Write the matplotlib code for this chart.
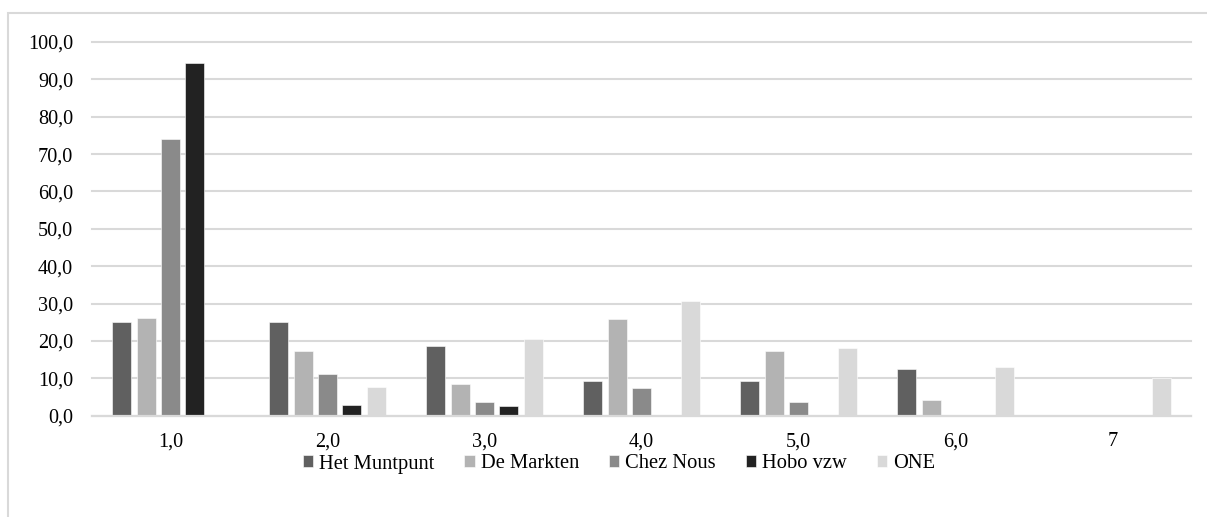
import matplotlib
matplotlib.use("Agg")
import matplotlib.pyplot as plt
import matplotlib.patches as mpatches
import numpy as np

categories = ["1,0", "2,0", "3,0", "4,0", "5,0", "6,0", "7"]
series_names = ["Het Muntpunt", "De Markten", "Chez Nous", "Hobo vzw", "ONE"]
het_muntpunt = [25.0, 25.0, 18.6, 9.3, 9.3, 12.4, 0.0]
de_markten = [26.1, 17.4, 8.6, 26.0, 17.3, 4.3, 0.0]
chez_nous = [74.0, 11.1, 3.6, 7.4, 3.6, 0.0, 0.0]
hobo_vzw = [94.4, 2.8, 2.7, 0.0, 0.0, 0.0, 0.0]
one = [0.0, 7.7, 20.5, 30.6, 18.0, 12.9, 10.0]
yticks = [0, 10, 20, 30, 40, 50, 60, 70, 80, 90, 100]
ytick_labels = ["0,0", "10,0", "20,0", "30,0", "40,0", "50,0", "60,0", "70,0", "80,0", "90,0", "100,0"]

colors = ["#606060", "#b3b3b3", "#8a8a8a", "#222222", "#d9d9d9"]
grid_color = "#d9d9d9"

plt.rcParams['font.family'] = ['Liberation Serif', 'DejaVu Serif']
W, H = 1207, 517
fig = plt.figure(figsize=(W / 100, H / 100), dpi=100)
ax = fig.add_axes([92 / W, 1 - 415.7 / H, (1191 - 92) / W, (415.7 - 42) / H])

x = np.arange(len(categories))
bw = 0.119
pitch = 0.155
data = [het_muntpunt, de_markten, chez_nous, hobo_vzw, one]
for i, (name, vals) in enumerate(zip(series_names, data)):
    ax.bar(x + (i - 2) * pitch, vals, width=bw, color=colors[i], label=name,
           edgecolor="white", linewidth=0.4, zorder=3)

ax.set_xlim(-0.5, len(categories) - 0.5)
ax.set_ylim(0, 100)
ax.set_yticks(yticks)
ax.set_yticklabels(ytick_labels)
ax.set_xticks(x)
ax.set_xticklabels(categories)
ax.tick_params(axis='both', length=0, labelsize=14.6, colors="#000000")
ax.tick_params(axis='y', pad=13.5)
ax.tick_params(axis='x', pad=12)
for s in ["top", "right", "left"]:
    ax.spines[s].set_visible(False)
ax.spines["bottom"].set_color(grid_color)
ax.spines["bottom"].set_linewidth(1.6)
ax.spines["bottom"].set_zorder(4)
ax.yaxis.grid(True, color=grid_color, linewidth=1.5, zorder=0)
ax.set_axisbelow(True)
for gl in ax.yaxis.get_gridlines():
    gl.set_clip_on(False)

fig.legend(loc="center", bbox_to_anchor=(619 / W, 1 - 464 / H), ncol=5, frameon=False,
           prop=dict(family=['Liberation Serif', 'DejaVu Serif'], size=14.8),
           handlelength=0.5, handleheight=0.5, handletextpad=0.3,
           columnspacing=1.45)

frame = mpatches.Rectangle((8 / W, -0.05), 1.1, 1 - 13 / H + 0.05, transform=fig.transFigure,
                           fill=False, edgecolor=grid_color, linewidth=1.5, clip_on=False)
fig.patches.append(frame)

fig.savefig("out.png", dpi=100)
